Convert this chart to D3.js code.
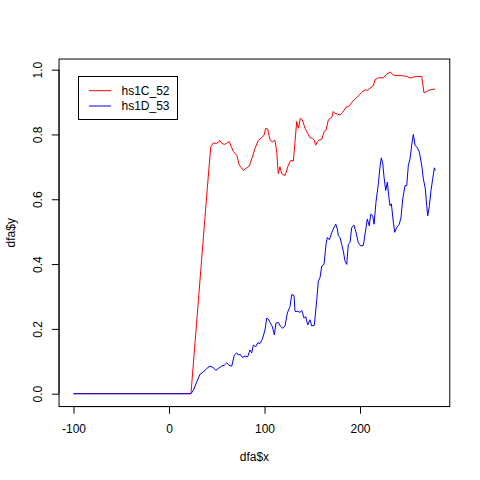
<!DOCTYPE html>
<html>
<head>
<meta charset="utf-8">
<script src="https://cdn.jsdelivr.net/npm/d3@7"></script>
<style>
  body { margin: 0; background: #fff; }
  text { font-family: "Liberation Sans", Arial, sans-serif; font-size: 12px; fill: #000; }
</style>
</head>
<body>
<svg id="container" width="480" height="480"></svg>
<script>
// dfa$y against dfa$x, two series

var redX = [-100, 23, 40.1, 43.7, 46.4, 49.9, 53.4, 55.2, 57.9, 60.4, 63.1, 65.7, 67.3, 70.9, 73.6, 76.1, 77.8,
            81.4, 84.1, 86.6, 90.1, 93.5, 97.1, 99.5, 101.3, 103.3, 105.8, 108.2, 111.0, 112.8, 114.4, 116.2,
            118.0, 121.5, 124.9, 127.4, 130.2, 131.9, 133.7, 135.4, 137.5, 139.6, 142.4, 145.2, 147.6, 150.1,
            152.1, 153.6, 155.3, 157.1, 159.9, 162.6, 164.4, 166.8, 170.4, 172.0, 173.8, 176.2, 179.1, 181.9,
            185.3, 188.8, 191.3, 194.8, 198.2, 201.8, 205.2, 207.6, 210.5, 213.9, 215.7, 219.2, 224.4, 228.0,
            231.4, 234.9, 240.1, 245.3, 248.9, 252.4, 255.8, 259.4, 264.6, 267.0, 269.8, 273.3, 278.5]
  , redY = [0, 0, 0.635, 0.762, 0.774, 0.772, 0.781, 0.773, 0.769, 0.773, 0.778, 0.759, 0.748, 0.736, 0.705, 0.697, 0.689,
            0.697, 0.703, 0.725, 0.757, 0.782, 0.790, 0.798, 0.819, 0.817, 0.782, 0.777, 0.782, 0.746, 0.679, 0.700,
            0.679, 0.673, 0.705, 0.720, 0.718, 0.777, 0.840, 0.819, 0.850, 0.845, 0.819, 0.803, 0.790, 0.788,
            0.782, 0.767, 0.777, 0.782, 0.785, 0.810, 0.813, 0.845, 0.853, 0.871, 0.865, 0.863, 0.860, 0.868,
            0.884, 0.888, 0.899, 0.909, 0.919, 0.930, 0.938, 0.936, 0.943, 0.950, 0.969, 0.975, 0.975, 0.986,
            0.993, 0.983, 0.982, 0.981, 0.979, 0.974, 0.977, 0.979, 0.979, 0.928, 0.933, 0.938, 0.940]
  , blueX = [-100, 23, 25.4, 29.0, 32.5, 35.9, 39.5, 42.9, 46.4, 48.9, 51.6, 55.2, 57.9, 60.4, 62.8, 65.7, 68.4,
             70.9, 72.6, 74.3, 76.8, 79.6, 82.4, 84.8, 86.6, 88.3, 90.8, 92.9, 95.3, 97.7, 100.5, 102.3, 104.0,
             105.8, 108.2, 110.3, 112.0, 114.4, 117.0, 119.1, 121.5, 123.9, 126.7, 128.5, 130.9, 131.9, 134.8,
             137.2, 139.0, 141.4, 143.1, 145.2, 147.6, 149.4, 152.1, 154.7, 156.3, 158.1, 159.9, 162.3, 164.4,
             165.8, 167.9, 170.4, 172.0, 174.6, 176.2, 177.3, 179.1, 180.8, 182.5, 184.3, 186.1, 187.7, 189.5,
             191.3, 193.7, 195.8, 198.2, 200.7, 203.5, 206.3, 207.6, 209.7, 211.2, 213.3, 214.7, 216.7, 219.2,
             220.9, 222.3, 223.8, 225.1, 226.9, 228.6, 230.0, 231.4, 232.8, 234.9, 236.3, 238.4, 241.1, 242.9,
             244.7, 247.1, 248.9, 250.6, 252.4, 254.1, 255.8, 257.6, 260.0, 262.1, 264.6, 266.3, 268.4, 269.8,
             270.9, 272.6, 274.3, 276.1, 277.8, 278.8]
  , blueY = [0, 0, 0.010, 0.036, 0.060, 0.067, 0.078, 0.085, 0.081, 0.072, 0.078, 0.085, 0.088, 0.095, 0.088, 0.085, 0.119,
             0.126, 0.119, 0.122, 0.112, 0.116, 0.114, 0.135, 0.126, 0.150, 0.145, 0.157, 0.155, 0.168, 0.197, 0.233, 0.230,
             0.220, 0.207, 0.181, 0.218, 0.220, 0.207, 0.202, 0.209, 0.249, 0.269, 0.306, 0.303, 0.254, 0.254,
             0.251, 0.257, 0.233, 0.238, 0.212, 0.228, 0.209, 0.211, 0.290, 0.347, 0.358, 0.394, 0.399, 0.461,
             0.482, 0.475, 0.498, 0.508, 0.523, 0.508, 0.487, 0.482, 0.461, 0.440, 0.409, 0.399, 0.461, 0.466,
             0.513, 0.520, 0.498, 0.466, 0.456, 0.458, 0.513, 0.539, 0.518, 0.554, 0.549, 0.523, 0.591, 0.648,
             0.700, 0.728, 0.710, 0.669, 0.627, 0.653, 0.611, 0.580, 0.586, 0.529, 0.498, 0.513, 0.523, 0.544,
             0.601, 0.642, 0.642, 0.705, 0.725, 0.767, 0.800, 0.767, 0.759, 0.746, 0.705, 0.663, 0.632, 0.580,
             0.549, 0.580, 0.627, 0.663, 0.697, 0.689]
  , seriesNames = ["hs1C_52", "hs1D_53"]
  , seriesColors = ["#ff0000", "#0000ff"]
  , xTicks = [-100, 0, 100, 200]
  , yTicks = [0, 0.2, 0.4, 0.6, 0.8, 1.0]
  ;

var lineH = 14.4   // R margin line height in px
  , plotLeft = 4.1 * lineH, plotRight = 480 - 2.1 * lineH
  , plotTop = 4.1 * lineH, plotBottom = 480 - 5.1 * lineH
  , svg = d3.select("#container")
  ;

// R style axis range: data range padded by 4% each side
function padded (ext) {
  var d = (ext[1] - ext[0]) * 0.04;
  return [ext[0] - d, ext[1] + d];
}

var xExt = d3.extent(redX.concat(blueX))
  , yExt = d3.extent(redY.concat(blueY))
  , x = d3.scaleLinear().domain(padded(xExt)).range([plotLeft, plotRight])
  , y = d3.scaleLinear().domain(padded(yExt)).range([plotBottom, plotTop])
  ;

var series = [
  { name: seriesNames[0], color: seriesColors[0], xs: redX, ys: redY },
  { name: seriesNames[1], color: seriesColors[1], xs: blueX, ys: blueY }
];

var path = d3.line()
             .x(function (d) { return x(d[0]); })
             .y(function (d) { return y(d[1]); });

series.forEach(function (s) {
  svg.append("path")
     .datum(d3.zip(s.xs, s.ys))
     .attr("d", path)
     .attr("fill", "none")
     .attr("stroke", s.color)
     .attr("stroke-width", 1);
});

// Box
svg.append("rect")
   .attr("x", plotLeft)
   .attr("y", plotTop)
   .attr("width", plotRight - plotLeft)
   .attr("height", plotBottom - plotTop)
   .attr("fill", "none")
   .attr("stroke", "#000")
   .attr("stroke-width", 1);

// Axes (R prints a plain hyphen for negatives)
var xAxis = d3.axisBottom(x)
              .tickValues(xTicks)
              .tickSize(7.2)
              .tickFormat(function (d) { return String(d); });
var gx = svg.append("g")
            .attr("transform", "translate(0," + plotBottom + ")")
            .call(xAxis);
gx.select(".domain")
  .attr("d", "M" + x(xTicks[0]) + ",0H" + x(xTicks[xTicks.length - 1]));
gx.selectAll(".tick text")
  .attr("font-family", null)
  .attr("font-size", null)
  .attr("y", 26)
  .attr("dy", null);

var yAxis = d3.axisLeft(y)
              .tickValues(yTicks)
              .tickSize(7.2)
              .tickFormat(d3.format(".1f"));
var gy = svg.append("g")
            .attr("transform", "translate(" + plotLeft + ",0)")
            .call(yAxis);
gy.select(".domain")
  .attr("d", "M0," + y(yTicks[0]) + "V" + y(yTicks[yTicks.length - 1]));
gy.selectAll(".tick text")
  .attr("font-family", null)
  .attr("font-size", null)
  .attr("x", null)
  .attr("dy", null)
  .attr("text-anchor", "middle")
  .attr("transform", "translate(" + (41.8 - plotLeft) + ",0) rotate(-90)");

// Axis titles
svg.append("text")
   .attr("x", (plotLeft + plotRight) / 2)
   .attr("y", 460.5)
   .attr("text-anchor", "middle")
   .text("dfa$x");
svg.append("text")
   .attr("transform", "translate(14.5," + (plotTop + plotBottom) / 2 + ") rotate(-90)")
   .attr("text-anchor", "middle")
   .text("dfa$y");

// Legend
var legend = svg.append("g");
legend.append("rect")
      .attr("x", 78.5)
      .attr("y", 76.5)
      .attr("width", 99)
      .attr("height", 43)
      .attr("fill", "#fff")
      .attr("stroke", "#000");
series.forEach(function (s, i) {
  var ly = 90.7 + i * 15.3;
  legend.append("line")
        .attr("x1", 89).attr("x2", 111)
        .attr("y1", ly).attr("y2", ly)
        .attr("stroke", s.color);
  legend.append("text")
        .attr("x", 121.5)
        .attr("y", ly + 4.3)
        .text(s.name);
});
</script>
</body>
</html>
